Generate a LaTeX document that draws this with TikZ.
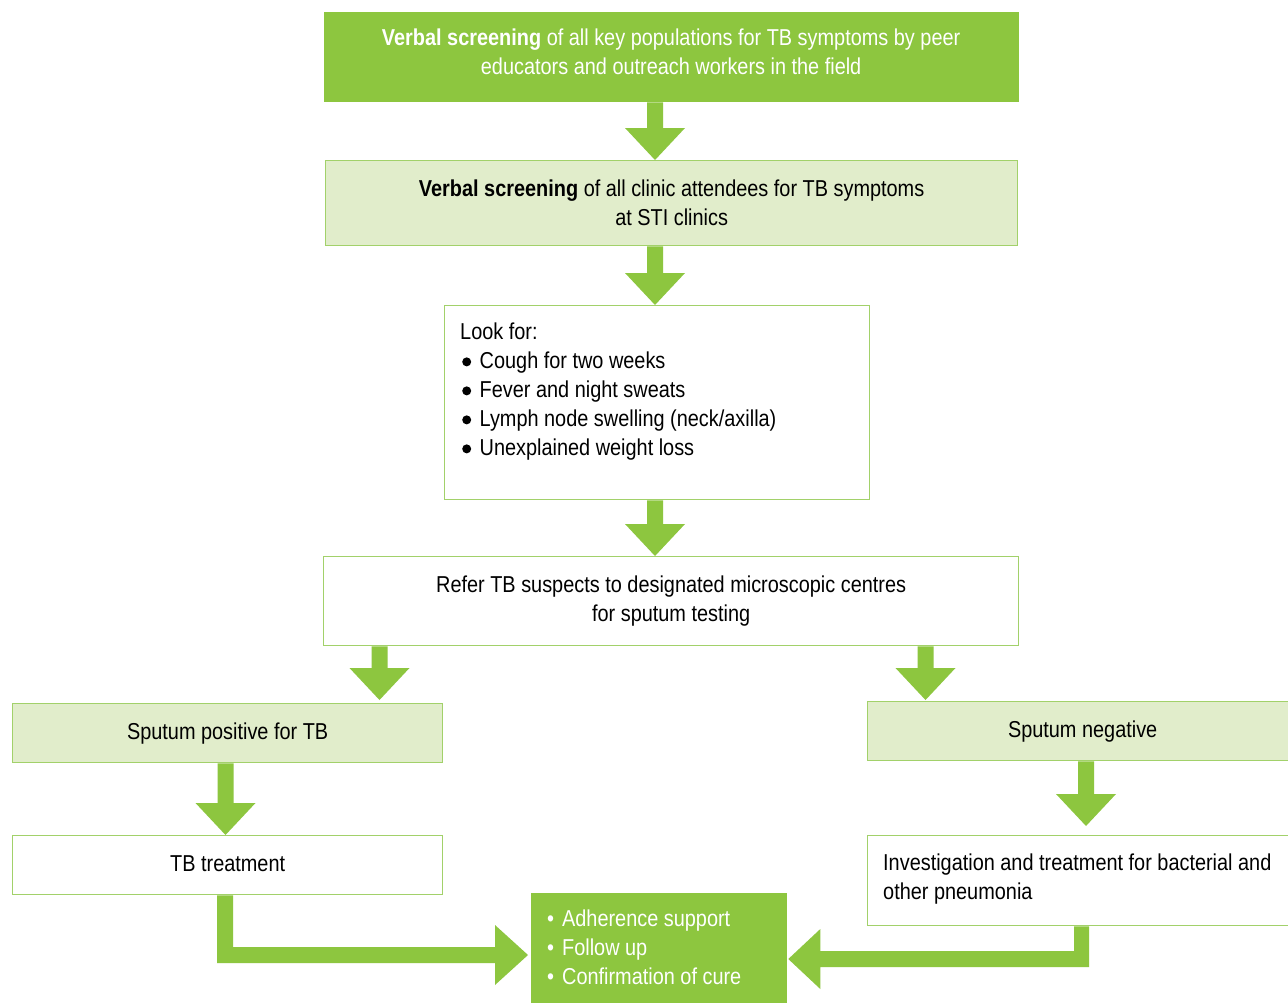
\documentclass[tikz,border=0pt]{standalone}
\usepackage{fontspec}
\setmainfont[FakeStretch=0.865]{Liberation Sans}
\usetikzlibrary{calc}
\definecolor{dgreen}{HTML}{8DC63F}
\definecolor{lfill}{HTML}{E1EDCB}
\definecolor{bord}{HTML}{A2D16A}
\tikzset{
  box/.style={draw=bord, line width=1.3pt, inner sep=0pt, anchor=north west,
    font=\fontsize{23}{29}\selectfont, align=center},
  darkbox/.style={box, fill=dgreen, draw=none, text=white},
  lightbox/.style={box, fill=lfill},
  whitebox/.style={box, fill=white},
  txt/.style={inner sep=0pt, anchor=north west, font=\fontsize{23}{29}\selectfont, align=left},
  arr/.style={fill=dgreen, draw=none}
}
\newcommand\bigbul{\hspace{2pt}\tikz[baseline=-6.5pt]\fill (0,0) circle (4.5pt);\hspace{8.5pt}}
\newcommand\smbul{\textbullet\hspace{8pt}}
% down arrow: [#1 gap] #2 x-coordinate name, #3 source node, #4 target node
\newcommand\dnarrow[4][0]{%
  \fill[arr] ($(#2 |- #3.south)+(-8,0)$) -- ($(#2 |- #3.south)+(8,0)$)
    -- ($(#2 |- #4.north)+(8,-32-#1)$) -- ($(#2 |- #4.north)+(30,-32-#1)$)
    -- ($(#2 |- #4.north)+(0,-#1)$) -- ($(#2 |- #4.north)+(-30,-32-#1)$)
    -- ($(#2 |- #4.north)+(-8,-32-#1)$) -- cycle;}
\begin{document}
\begin{tikzpicture}[x=1pt,y=-1pt]
\useasboundingbox (0,0) rectangle (1288,1002);
\fill[white] (0,0) rectangle (1288,1002);

\node[darkbox, minimum width=695, minimum height=90, text depth=10pt] (b1) at (323,11)
  {\textbf{Verbal screening} of all key populations for TB symptoms by peer\\educators and outreach workers in the field};
\node[lightbox, minimum width=692, minimum height=85] (b2) at (325,160)
  {\textbf{Verbal screening} of all clinic attendees for TB symptoms\\at STI clinics};
\node[whitebox, minimum width=425, minimum height=194] (b3) at (444,305) {};
\node[txt] (t3) at (460,322.5)
  {Look for:\\
   \bigbul Cough for two weeks\\
   \bigbul Fever and night sweats\\
   \bigbul Lymph node swelling (neck/axilla)\\
   \bigbul Unexplained weight loss};
\node[whitebox, minimum width=695, minimum height=89] (b4) at (323,556)
  {Refer TB suspects to designated microscopic centres\\for sputum testing};
\node[lightbox, minimum width=430, minimum height=59] (b5) at (12,703)
  {Sputum positive for TB};
\node[whitebox, minimum width=430, minimum height=59, text depth=4pt] (b6) at (12,835)
  {TB treatment};
\node[lightbox, minimum width=430, minimum height=59] (b7) at (867,701)
  {Sputum negative};
\node[whitebox, minimum width=430, minimum height=90] (b8) at (867,835) {};
\node[txt] (t8) at (883,853.5)
  {Investigation and treatment for bacterial and\\other pneumonia};
\node[darkbox, minimum width=256, minimum height=112] (b9) at (530,892) {};
\node[txt, text=white] (t9) at (547,909.5)
  {\smbul Adherence support\\
   \smbul Follow up\\
   \smbul Confirmation of cure};

% arrow axes
\coordinate (xa) at (655,0);
\coordinate (xl) at (379.5,0);
\coordinate (xr) at (925.5,0);
\coordinate (xp) at (225.5,0);
\coordinate (xn) at (1086,0);

\dnarrow{xa}{b1}{b2}
\dnarrow{xa}{b2}{b3}
\dnarrow{xa}{b3}{b4}
\dnarrow[3]{xl}{b4}{b5}
\dnarrow[1]{xr}{b4}{b7}
\dnarrow{xp}{b5}{b6}
\dnarrow[9]{xn}{b7}{b8}

% elbow arrow from TB treatment to follow-up box
\coordinate (el) at (225,955);
\fill[arr] ($(el |- b6.south)+(-8,0)$) -- ($(el |- b6.south)+(8,0)$)
  -- ($(el)+(8,-8)$) -- ($(b9.west |- el)+(-35,-8)$) -- ($(b9.west |- el)+(-35,-30)$)
  -- ($(b9.west |- el)+(-2,0)$) -- ($(b9.west |- el)+(-35,30)$) -- ($(b9.west |- el)+(-35,8)$)
  -- ($(el)+(-8,8)$) -- cycle;

% elbow arrow from pneumonia box to follow-up box
\coordinate (er) at (1081.5,959);
\fill[arr] ($(er |- b8.south)+(-7.5,0)$) -- ($(er |- b8.south)+(7.5,0)$)
  -- ($(er)+(7.5,8)$) -- ($(b9.east |- er)+(33,8)$) -- ($(b9.east |- er)+(33,30)$)
  -- ($(b9.east |- er)+(1,0)$) -- ($(b9.east |- er)+(33,-30)$) -- ($(b9.east |- er)+(33,-8)$)
  -- ($(er)+(-7.5,-8)$) -- cycle;
\end{tikzpicture}
\end{document}
